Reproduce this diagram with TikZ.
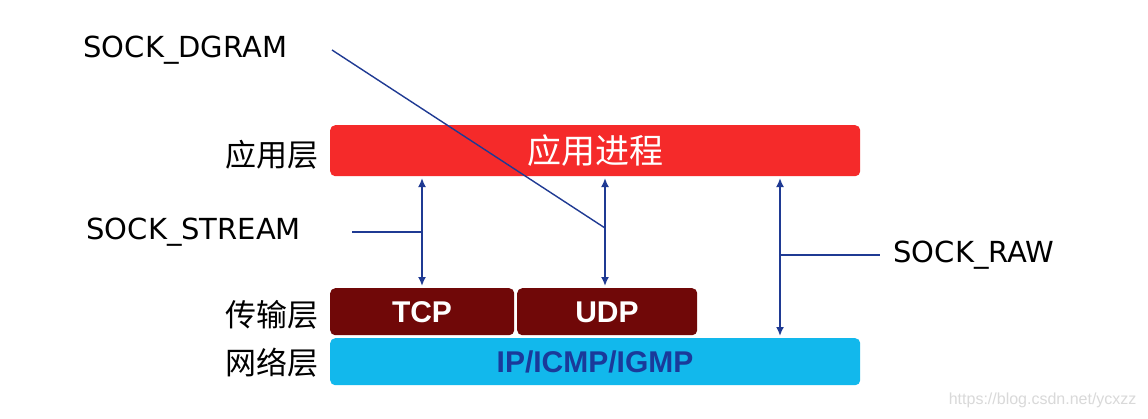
\documentclass[tikz,border=0pt]{standalone}
\usepackage{fontspec}
\setmainfont{DejaVu Sans}
\newfontfamily\cjk{Noto Sans CJK SC}
\newfontfamily\arial{Liberation Sans}
\usetikzlibrary{arrows.meta}
\definecolor{lineblue}{HTML}{1F3A93}
\definecolor{appred}{HTML}{F52A2A}
\definecolor{tpred}{HTML}{700808}
\definecolor{ipcyan}{HTML}{12B8EC}
\definecolor{iptext}{HTML}{1A3A9A}
\begin{document}
\begin{tikzpicture}[x=1pt,y=-1pt,
  bar/.style={rounded corners=5pt,inner sep=0pt,anchor=north west},
  layerlbl/.style={font=\cjk\fontsize{31}{33}\selectfont,anchor=east},
  socklbl/.style={font=\fontsize{29}{31}\selectfont,anchor=west},
  conn/.style={draw=lineblue,line width=2pt},
  dbl/.style={conn,{Latex[length=9pt,width=8pt]}-{Latex[length=9pt,width=8pt]}}]
\useasboundingbox (0,0) rectangle (1148,418);
\fill[white] (0,0) rectangle (1148,418);
\node[bar,fill=appred,minimum width=530pt,minimum height=51pt] (app) at (330,125) {};
\node[font=\cjk\fontsize{34}{36}\selectfont,text=white] at (595,151) {应用进程};
\node[bar,fill=tpred,minimum width=184pt,minimum height=47pt] (tcp) at (330,288) {};
\node[font=\arial\bfseries\fontsize{30}{32}\selectfont,text=white] at (422,312) {TCP};
\node[bar,fill=tpred,minimum width=180pt,minimum height=47pt] (udp) at (517,288) {};
\node[font=\arial\bfseries\fontsize{30}{32}\selectfont,text=white] at (607,312) {UDP};
\node[bar,fill=ipcyan,minimum width=530pt,minimum height=47pt] (ip) at (330,338) {};
\node[font=\arial\bfseries\fontsize{30}{32}\selectfont,text=iptext] at (595,362) {IP/ICMP/IGMP};
\node[layerlbl] (l1) at (322,155) {应用层};
\node[layerlbl] (l2) at (322,315) {传输层};
\node[layerlbl] (l3) at (322,363) {网络层};
\node[socklbl] (dgram) at (80,50) {SOCK\_DGRAM};
\node[socklbl] (stream) at (83,232) {SOCK\_STREAM};
\node[socklbl] (raw) at (890,255) {SOCK\_RAW};
\coordinate (ta) at (422,178); \coordinate (tb) at (422,286);
\coordinate (ua) at (605,178); \coordinate (ub) at (605,286);
\coordinate (ra) at (780,178); \coordinate (rb) at (780,336);
\draw[dbl] (ta) -- (tb);
\draw[dbl] (ua) -- (ub);
\draw[dbl] (ra) -- (rb);
\coordinate (sj) at (422,232); \coordinate (dj) at (605,228); \coordinate (rj) at (780,255);
\draw[conn,line width=1.4pt] (352,232) -- (sj);
\draw[conn,line width=1.4pt] (332,50) -- (dj);
\draw[conn,line width=1.4pt] (rj) -- (880,255);
\node[font=\arial\fontsize{16}{18}\selectfont,text=black!15,anchor=east] at (1140,400) {https://blog.csdn.net/ycxzz};
\end{tikzpicture}
\end{document}
